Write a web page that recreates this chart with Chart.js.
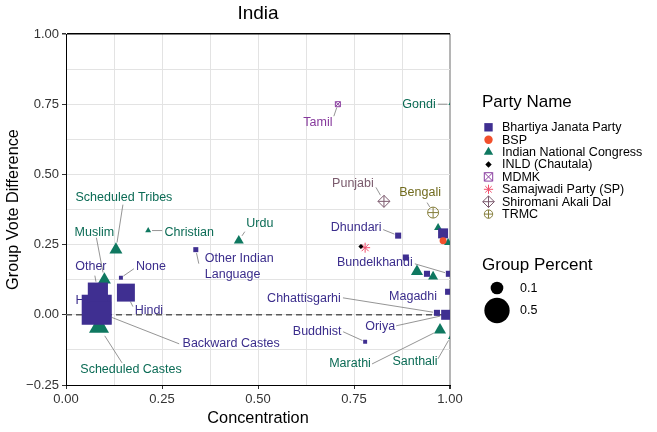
<!DOCTYPE html>
<html>
<head>
<meta charset="utf-8">
<title>India</title>
<script src="https://cdn.jsdelivr.net/npm/chart.js@4.4.0/dist/chart.umd.min.js"></script>
<style>
  html, body { margin: 0; padding: 0; background: #fff; }
  #wrap { width: 657px; height: 432px; }
</style>
</head>
<body>
<div id="wrap"><canvas id="chart" width="657" height="432"></canvas></div>
<script>
// Parties (legend order)
const partyNames = ['Bhartiya Janata Party', 'BSP', 'Indian National Congress', 'INLD (Chautala)',
                    'MDMK', 'Samajwadi Party (SP)', 'Shiromani Akali Dal', 'TRMC'];

// Groups: one entry per point
const groupNames = ['Hindu', 'Other', 'Backward Castes', 'Hindi', 'None', 'Other Indian Language',
                    'Dhundari', '', '', '', 'Bundelkhandi', 'Magadhi', 'Chhattisgarhi', 'Oriya', 'Buddhist',
                    'Scheduled Castes', 'Scheduled Tribes', 'Muslim', 'Christian', 'Urdu',
                    '', '', '', '', 'Marathi', 'Santhali', 'Gondi',
                    '', '', 'Tamil', '', 'Punjabi', 'Bengali'];
const groupParty = [0, 0, 0, 0, 0, 0,
                    0, 0, 0, 0, 0, 0, 0, 0, 0,
                    2, 2, 2, 2, 2,
                    2, 2, 2, 2, 2, 2, 2,
                    1, 3, 4, 5, 6, 7];
const concentration = [0.080, 0.083, 0.089, 0.156, 0.143, 0.338,
                       0.865, 0.982, 0.885, 0.940, 0.997, 0.995, 0.966, 0.990, 0.779,
                       0.086, 0.130, 0.100, 0.214, 0.450,
                       0.969, 0.995, 0.914, 0.956, 0.974, 1.000, 1.000,
                       0.982, 0.768, 0.708, 0.779, 0.828, 0.956];
const voteDiff = [0.018, 0.079, 0.007, 0.079, 0.132, 0.232,
                  0.282, 0.290, 0.204, 0.146, 0.146, 0.082, 0.007, 0.000, -0.096,
                  -0.043, 0.232, 0.125, 0.300, 0.264,
                  0.310, 0.257, 0.154, 0.136, -0.054, -0.082, 0.750,
                  0.264, 0.243, 0.750, 0.239, 0.404, 0.364];
const groupPercent = [0.73, 0.30, 0.37, 0.23, 0.002, 0.006,
                      0.012, 0.054, 0.012, 0.012, 0.012, 0.012, 0.012, 0.054, 0.002,
                      0.27, 0.096, 0.096, 0.010, 0.048,
                      0.026, 0.026, 0.080, 0.048, 0.080, 0.0016, 0.0003,
                      0.019, 0.006, 0.006, 0.054, 0.087, 0.069];

const xTicks = [0, 0.25, 0.5, 0.75, 1];
const yTicks = [-0.25, 0, 0.25, 0.5, 0.75, 1];
const sizeBreaks = [0.1, 0.5];

// styles
const partyStyle = [
  { color: '#3f2f91', shape: 'rect', fill: true },
  { color: '#f2502c', shape: 'circle', fill: true },
  { color: '#0f7860', shape: 'triangle', fill: true },
  { color: '#000000', shape: 'rectRot', fill: true },
  { color: '#8b3fa0', shape: 'rect', fill: false, overlay: 'crossRot' },
  { color: '#f0506e', shape: 'star', fill: false },
  { color: '#7c5a6e', shape: 'rectRot', fill: false, overlay: 'cross' },
  { color: '#857e3c', shape: 'circle', fill: false, overlay: 'cross' }
];
const labelColor = ['#3b2d8c', '#f2502c', '#0b6b55', '#000000', '#86399c', '#f0506e', '#7a5a6c', '#716b1e'];
const shapeScale = { rect: Math.SQRT2, triangle: 1.2, circle: 1, rectRot: 1, star: 1 };
const legendR = [4.2, 4.2, 4.5, 3.2, 4.2, 4.6, 5.8, 4.2];

// label placement: text offset from point, segment start offset (px)
const labelPlacement = {
  'Hindu':                 { t: [-5, -9], s: null },
  'Other':                 { t: [-7, -26], s: [-3, -17] },
  'Backward Castes':       { t: [131, 31], s: [79, 31] },
  'Hindi':                 { t: [23, 18], s: [7, 14] },
  'None':                  { t: [30, -11], s: [13, -9] },
  'Other Indian Language': { t: [9, 9], s: [3, 14], lines: ['Other Indian', 'Language'], align: 'left' },
  'Dhundari':              { t: [-42, -8], s: [-15, -6] },
  'Bundelkhandi':          { t: [-74, -11], s: [-34, -10] },
  'Magadhi':               { t: [-35, 5], s: null },
  'Chhattisgarhi':         { t: [-133, -14], s: [-94, -15] },
  'Oriya':                 { t: [-66, 12], s: [-50, 11] },
  'Buddhist':              { t: [-48, -10], s: [-22, -10] },
  'Scheduled Castes':      { t: [32, 43], s: [23, 36] },
  'Scheduled Tribes':      { t: [8, -52], s: [7, -45] },
  'Muslim':                { t: [-10, -47], s: [-8, -42] },
  'Christian':             { t: [41, 2], s: [14, 0] },
  'Urdu':                  { t: [21, -17], s: [6, -9] },
  'Marathi':               { t: [-90, 34], s: [-68, 34] },
  'Santhali':              { t: [-35, 24], s: [-12, 21] },
  'Gondi':                 { t: [-31, 0], s: [-12, 0] },
  'Tamil':                 { t: [-20, 18], s: [-4, 12] },
  'Punjabi':               { t: [-31, -18], s: [-8, -14] },
  'Bengali':               { t: [-13, -20], s: [-6, -10] }
};

const FONT = '"Liberation Sans", Arial, Helvetica, sans-serif';
Chart.defaults.font.family = FONT;

function circR(p) {
  return 1.26 + 16.1 * Math.sqrt(p);
}
function isMajor(v) {
  return Math.abs(v * 4 - Math.round(v * 4)) < 1e-9;
}
function fmt(v) {
  if (!isMajor(v)) return '';
  return v.toFixed(2).replace('-', '\u2212');
}

// Datasets per party
var datasets = [];
partyNames.forEach(function (name, p) {
  var idx = [];
  groupParty.forEach(function (g, i) { if (g === p) idx.push(i); });
  var st = partyStyle[p];
  var pts = idx.map(function (i) { return { x: concentration[i], y: voteDiff[i] }; });
  var radii = idx.map(function (i) { return circR(groupPercent[i]) * shapeScale[st.shape]; });
  var ord = p === 2 ? 3 : (p === 0 ? 2 : 1);
  datasets.push({
    label: name,
    data: pts,
    pointStyle: st.shape,
    pointRadius: radii,
    backgroundColor: st.fill ? st.color : 'rgba(0,0,0,0)',
    borderColor: st.color,
    borderWidth: st.fill ? 0 : 1,
    clip: 0,
    order: ord
  });
  if (st.overlay) {
    datasets.push({
      label: name + ' overlay',
      data: pts,
      pointStyle: st.overlay,
      pointRadius: radii,
      backgroundColor: 'rgba(0,0,0,0)',
      borderColor: st.color,
      borderWidth: 1,
      clip: 0,
      order: ord
    });
  }
});

// dashed reference line at zero
datasets.push({
  label: 'zero',
  type: 'line',
  data: [{ x: xTicks[0], y: 0 }, { x: xTicks[xTicks.length - 1], y: 0 }],
  showLine: true,
  borderColor: '#5a5a5a',
  borderWidth: 1.4,
  borderDash: [6, 4],
  pointRadius: 0,
  clip: 0,
  order: 10
});

// simple symbol drawer for legend
function drawSymbol(ctx, shape, x, y, R, color, fill) {
  ctx.beginPath();
  var s, a;
  switch (shape) {
    case 'rect':
      s = Math.SQRT1_2 * R;
      ctx.rect(x - s, y - s, 2 * s, 2 * s);
      break;
    case 'circle':
      ctx.arc(x, y, R, 0, Math.PI * 2);
      break;
    case 'triangle':
      ctx.moveTo(x, y - R);
      ctx.lineTo(x + Math.sin(2 * Math.PI / 3) * R, y + R / 2);
      ctx.lineTo(x - Math.sin(2 * Math.PI / 3) * R, y + R / 2);
      ctx.closePath();
      break;
    case 'rectRot':
      ctx.moveTo(x - R, y); ctx.lineTo(x, y - R); ctx.lineTo(x + R, y); ctx.lineTo(x, y + R);
      ctx.closePath();
      break;
    case 'cross':
      ctx.moveTo(x - R, y); ctx.lineTo(x + R, y); ctx.moveTo(x, y - R); ctx.lineTo(x, y + R);
      break;
    case 'crossRot':
      a = Math.SQRT1_2 * R;
      ctx.moveTo(x - a, y - a); ctx.lineTo(x + a, y + a); ctx.moveTo(x + a, y - a); ctx.lineTo(x - a, y + a);
      break;
    case 'star':
      a = Math.SQRT1_2 * R;
      ctx.moveTo(x - R, y); ctx.lineTo(x + R, y); ctx.moveTo(x, y - R); ctx.lineTo(x, y + R);
      ctx.moveTo(x - a, y - a); ctx.lineTo(x + a, y + a); ctx.moveTo(x + a, y - a); ctx.lineTo(x - a, y + a);
      break;
  }
  if (fill) {
    ctx.fillStyle = color;
    ctx.fill();
  } else {
    ctx.strokeStyle = color;
    ctx.lineWidth = 1;
    ctx.stroke();
  }
}

// group labels, drawn under the points
const labelPlugin = {
  id: 'groupLabels',
  beforeDatasetsDraw: function (chart) {
    var ctx = chart.ctx, xs = chart.scales.x, ys = chart.scales.y;
    ctx.save();
    groupNames.forEach(function (name, i) {
      var pl = labelPlacement[name];
      if (!pl) return;
      var px = xs.getPixelForValue(concentration[i]);
      var py = ys.getPixelForValue(voteDiff[i]);
      var p = groupParty[i];
      if (pl.s) {
        var sx = px + pl.s[0], sy = py + pl.s[1];
        var dx = px - sx, dy = py - sy, len = Math.sqrt(dx * dx + dy * dy);
        var gap = circR(groupPercent[i]) + 1;
        if (len > gap) {
          ctx.beginPath();
          ctx.moveTo(sx, sy);
          ctx.lineTo(sx + dx * (len - gap) / len, sy + dy * (len - gap) / len);
          ctx.strokeStyle = '#7a7a7a';
          ctx.lineWidth = 0.8;
          ctx.stroke();
        }
      }
      ctx.font = '12.5px ' + FONT;
      ctx.fillStyle = labelColor[p];
      ctx.textBaseline = 'middle';
      ctx.textAlign = pl.align || 'center';
      var lines = pl.lines || [name];
      lines.forEach(function (ln, k) {
        ctx.fillText(ln, px + pl.t[0], py + pl.t[1] + k * 16);
      });
    });
    ctx.restore();
  }
};

// title and legends
const decorPlugin = {
  id: 'decor',
  afterDraw: function (chart) {
    var ctx = chart.ctx, area = chart.chartArea;
    ctx.save();
    ctx.fillStyle = '#000';
    ctx.textBaseline = 'middle';
    ctx.textAlign = 'center';
    ctx.font = '19px ' + FONT;
    ctx.fillText('India', (area.left + area.right) / 2, 14);

    // Party legend
    ctx.textAlign = 'left';
    ctx.font = '17px ' + FONT;
    ctx.fillText('Party Name', 482, 102);
    ctx.font = '12.5px ' + FONT;
    partyNames.forEach(function (name, p) {
      var yy = 127.3 + p * 12.4;
      var st = partyStyle[p];
      var R = legendR[p] * shapeScale[st.shape];
      drawSymbol(ctx, st.shape, 488.5, yy, R, st.color, st.fill);
      if (st.overlay) drawSymbol(ctx, st.overlay, 488.5, yy, R, st.color, false);
      ctx.fillStyle = '#000';
      ctx.fillText(name, 502, yy + 0.5);
    });

    // Size legend
    ctx.font = '17px ' + FONT;
    ctx.fillText('Group Percent', 482, 265);
    ctx.font = '12.5px ' + FONT;
    var ys = [288, 310.5];
    sizeBreaks.forEach(function (b, k) {
      drawSymbol(ctx, 'circle', 497, ys[k], circR(b), '#000', true);
      ctx.fillStyle = '#000';
      ctx.fillText(String(b), 520, ys[k] + 0.5);
    });
    ctx.restore();
  }
};

function tickColor(ctx) {
  return ctx.tick && isMajor(ctx.tick.value) ? '#333' : 'rgba(0,0,0,0)';
}

new Chart(document.getElementById('chart'), {
  type: 'scatter',
  data: { datasets: datasets },
  options: {
    responsive: false,
    animation: false,
    devicePixelRatio: 1,
    events: [],
    layout: { padding: { top: 34, right: 207, left: 0, bottom: 0 } },
    plugins: { legend: { display: false }, tooltip: { enabled: false } },
    scales: {
      x: {
        type: 'linear',
        min: xTicks[0],
        max: xTicks[xTicks.length - 1],
        afterFit: function (s) { s.height = 47; },
        ticks: { stepSize: 0.125, autoSkip: false, maxRotation: 0, callback: fmt, color: '#333', font: { size: 13 }, padding: 3 },
        grid: {
          color: function (c) { return c.tick && c.tick.value === 1 ? '#b5b5b5' : '#e3e3e3'; },
          lineWidth: function (c) { return c.tick && c.tick.value === 1 ? 2 : 1; },
          tickLength: 4, tickColor: tickColor
        },
        border: { color: '#000', width: 1 },
        title: { display: true, text: 'Concentration', color: '#000', font: { size: 16.3 }, padding: { top: 0, bottom: 4 } }
      },
      y: {
        type: 'linear',
        min: yTicks[0],
        max: yTicks[yTicks.length - 1],
        afterFit: function (s) { s.width = 66; },
        ticks: { stepSize: 0.125, autoSkip: false, callback: fmt, color: '#333', font: { size: 13 }, padding: 3 },
        grid: {
          color: function (c) { return c.tick && c.tick.value === 1 ? '#000' : '#e3e3e3'; },
          lineWidth: function (c) { return c.tick && c.tick.value === 1 ? 1.5 : 1; },
          tickLength: 4, tickColor: tickColor
        },
        border: { color: '#000', width: 1 },
        title: { display: true, text: 'Group Vote Difference', color: '#000', font: { size: 16.3 }, padding: { top: 4, bottom: 0 } }
      }
    }
  },
  plugins: [labelPlugin, decorPlugin]
});
</script>
</body>
</html>
